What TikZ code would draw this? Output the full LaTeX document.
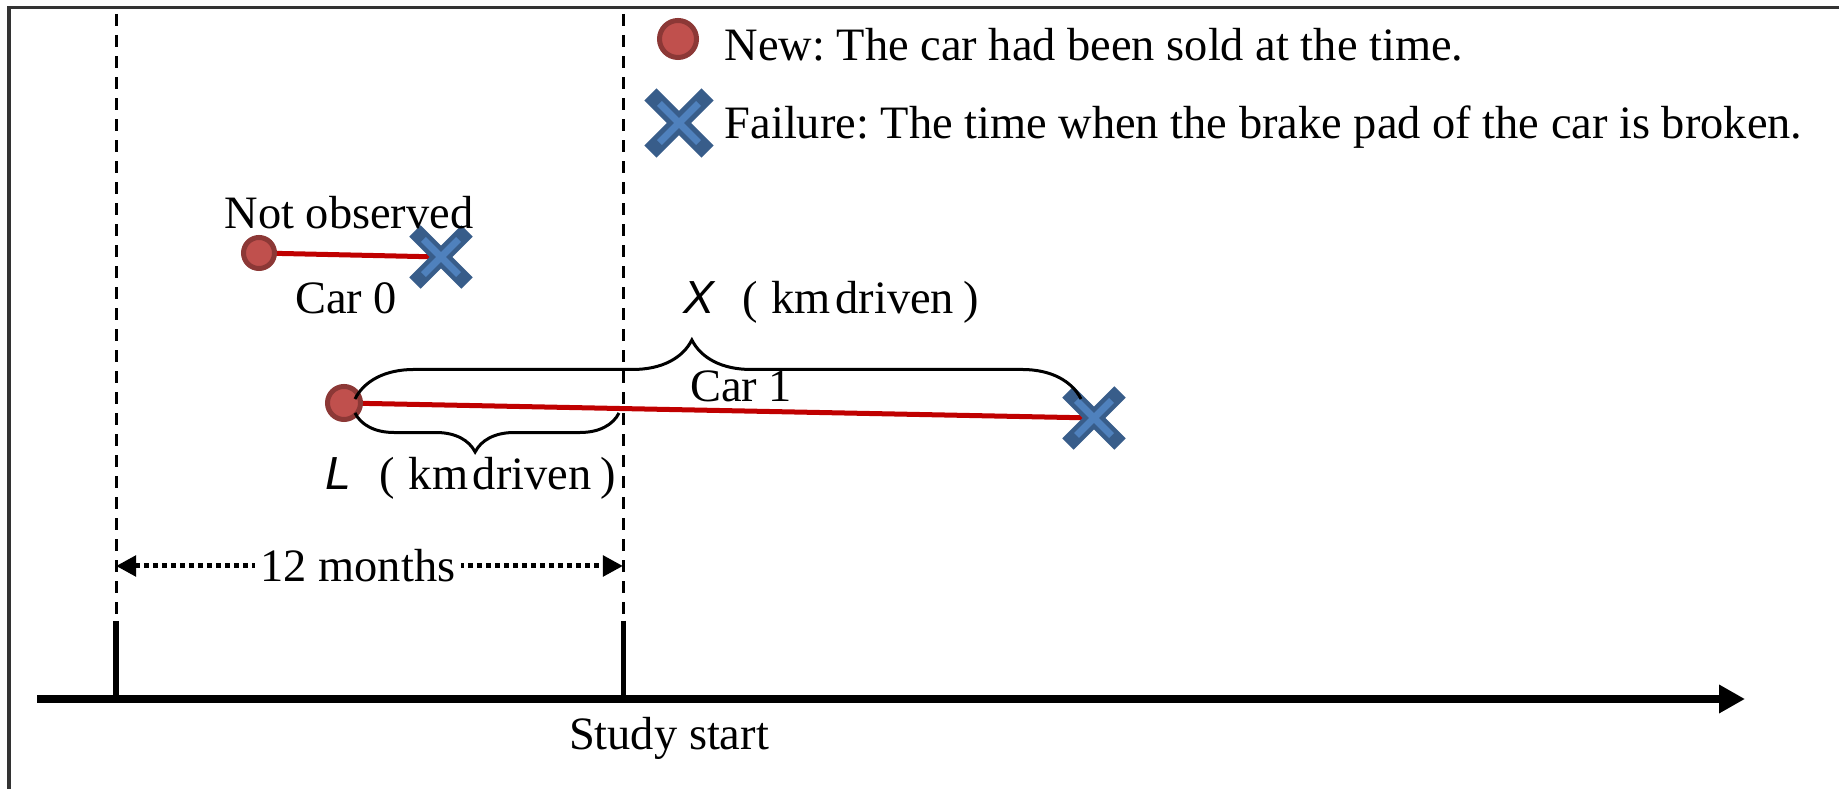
\documentclass[tikz,border=0pt]{standalone}
\usepackage{fontspec}
\setmainfont{Liberation Serif}
\newfontfamily\varsans{Liberation Sans}
\frenchspacing
\usetikzlibrary{arrows.meta,shapes.misc,decorations.pathreplacing,backgrounds}
\definecolor{newred}{HTML}{C0504D}
\definecolor{newdark}{HTML}{8C3836}
\definecolor{failblue}{HTML}{4F81BD}
\definecolor{faildark}{HTML}{385D8A}
\definecolor{carred}{HTML}{C00000}
\begin{document}
\begin{tikzpicture}[x=0.01cm,y=-0.01cm,
        every node/.style={inner sep=0pt,font=\fontsize{13.2}{16}\selectfont},
        newmark/.style={circle,draw=newdark,fill=newred,line width=0.05cm,minimum size=0.31cm},
        failmark/.style={cross out,draw=faildark,line width=0.16cm,minimum size=0.36cm},
        failcore/.style={cross out,draw=failblue,line width=0.07cm,minimum size=0.28cm},
        carline/.style={draw=carred,line width=0.05cm},
        guide/.style={line width=0.03cm,dash pattern=on 0.12cm off 0.09cm},
        tickline/.style={line width=0.05cm},
        kmbrace/.style={decorate,decoration={brace,amplitude=#1,aspect=0.464},line width=0.03cm}
    ]
        \useasboundingbox (0,0) rectangle (1839,789);
        \draw[line width=0.03cm,draw=black!80] (9,789) -- (9,8) -- (1839,8);

        % legend
        \node[newmark,minimum size=0.37cm] (lnew) at (678,39) {};
        \node[anchor=base west] (lnewtxt) at (724,61) {New: The car had been sold at the time.};
        \node[failmark,minimum size=0.4cm,line width=0.17cm] (lfail) at (679,123) {};
        \node[failcore,minimum size=0.32cm] at (lfail) {};
        \node[anchor=base west] (lfailtxt) at (724,139) {Failure: The time when the brake pad of the car is broken.};

        % car 0
        \node[newmark] (n0) at (259,253) {};
        \node[failmark] (f0) at (441,257) {};
        \node[failcore] at (f0) {};
        \node[anchor=base] (nobs) at (349,229) {Not observed};
        \node[anchor=base] (lbl0) at (346,314) {Car 0};

        % car 1
        \node[newmark,minimum size=0.33cm] (n1) at (344,403) {};
        \node[failmark] (f1) at (1094,418) {};
        \node[failcore] at (f1) {};
        \node[anchor=base] (lbl1) at (741,402) {Car 1};

        \begin{scope}[on background layer]
            \draw[carline] (n0.center) -- (f0.center);
            \draw[carline] (n1.center) -- (f1.center);
        \end{scope}

        \draw[kmbrace=0.59cm] (355,399) -- (1081,399);
        \node[anchor=base] (xlbl) at (831,314) {{\varsans\itshape X}\hspace{0.6em}(\hspace{0.3em}km\hspace{0.1em}driven\hspace{0.2em})};
        \draw[kmbrace=0.39cm,decoration={mirror,aspect=0.455}] (355,413) -- (619,413);
        \node[anchor=base] (llbl) at (471,490) {{\varsans\itshape L}\hspace{0.6em}(\hspace{0.3em}km\hspace{0.1em}driven\hspace{0.2em})};

        % time axis
        \coordinate (g0top) at (116,14);
        \coordinate (g0) at (116,621);
        \coordinate (g1top) at (623,14);
        \coordinate (g1) at (623,621);
        \coordinate (a0) at (37,699);
        \coordinate (a1) at (1745,699);
        \draw[guide] (g0top) -- (g0);
        \draw[guide] (g1top) -- (g1);
        \draw[line width=0.08cm,-{Triangle[length=0.26cm,width=0.27cm]}] (a0) -- (a1);
        \draw[tickline] (g0) -- (g0 |- a0);
        \draw[tickline] (g1) -- (g1 |- a0);
        \node[anchor=base] (start) at (669,750) {Study start};

        \coordinate (m0) at (116,566);
        \coordinate (m1) at (623,566);
        \draw[line width=0.05cm,dash pattern=on 0.05cm off 0.04cm,
            {Triangle[length=0.2cm,width=0.2cm]}-{Triangle[length=0.2cm,width=0.2cm]}] (m0) -- (m1);
        \node[fill=white,inner xsep=0.06cm,inner ysep=0.02cm] (months) at (358,566) {12 months};
    \end{tikzpicture}
\end{document}
